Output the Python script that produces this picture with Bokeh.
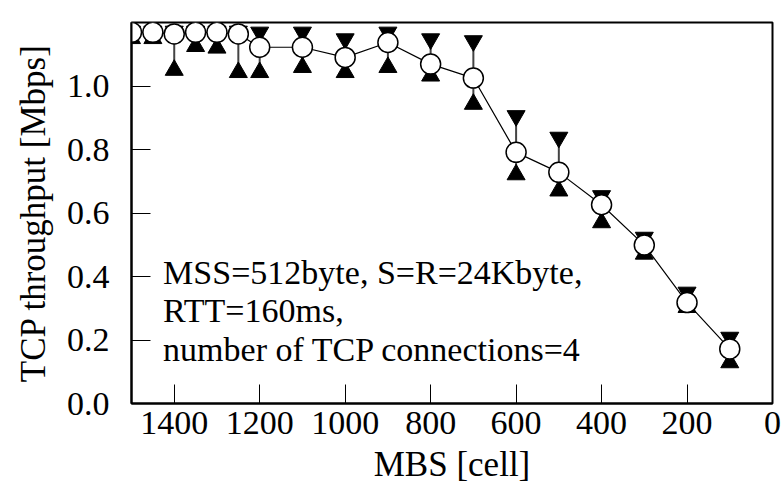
from bokeh.plotting import figure
from bokeh.models import Range1d, PrintfTickFormatter, ColumnDataSource, Title
from bokeh.core.properties import value
from bokeh.embed import file_html
from bokeh.resources import INLINE
import math

# MBS values [cell] and TCP throughput [Mbps]: mean, max and min per run
mbs = [1500, 1450, 1400, 1350, 1300, 1250, 1200, 1100, 1000, 900, 800, 700, 600, 500, 400, 300, 200, 100]
thr_mean = [1.169, 1.169, 1.164, 1.169, 1.169, 1.164, 1.122, 1.122, 1.090, 1.137, 1.069, 1.025,
            0.791, 0.728, 0.626, 0.499, 0.318, 0.172]
thr_max = [1.172, 1.172, 1.172, 1.172, 1.172, 1.172, 1.169, 1.169, 1.148, 1.169, 1.148, 1.142,
           0.906, 0.838, 0.654, 0.523, 0.350, 0.208]
thr_min = [1.150, 1.150, 1.050, 1.125, 1.120, 1.043, 1.043, 1.059, 1.043, 1.059, 1.032, 0.943,
           0.721, 0.670, 0.570, 0.471, 0.303, 0.129]

notes = ["MSS=512byte, S=R=24Kbyte,", "RTT=160ms,", "number of TCP connections=4"]
note_y = [0.355, 0.234, 0.112]

FONT = "Times New Roman"

src = ColumnDataSource(dict(x=mbs, y=thr_mean, hi=thr_max, lo=thr_min))

p = figure(width=782, height=492, output_backend="svg", toolbar_location=None,
           x_range=Range1d(1500, 0), y_range=Range1d(0, 1.2),
           min_border_left=128, min_border_right=10, min_border_top=22, min_border_bottom=89)

p.background_fill_color = "white"
p.outline_line_color = "black"
p.outline_line_width = 2
p.xgrid.visible = False
p.ygrid.visible = False

for ax in (p.xaxis[0], p.yaxis[0]):
    ax.axis_line_width = 2
    ax.major_tick_in = 19
    ax.major_tick_out = 0
    ax.minor_tick_line_color = None
    ax.major_label_text_font = FONT
    ax.major_label_text_font_size = "34px"
    ax.major_label_text_color = "black"

p.yaxis.formatter = PrintfTickFormatter(format="%.1f")
p.xaxis.major_label_standoff = 4
p.yaxis.major_label_standoff = 18

# axis titles
p.add_layout(Title(text="MBS [cell]", align="center", text_font=FONT, text_font_size="35px",
                   text_font_style="normal", text_color="black", standoff=12), "below")
p.add_layout(Title(text="TCP throughput [Mbps]", align="center", text_font=FONT,
                   text_font_size="35px", text_font_style="normal", text_color="black",
                   standoff=22), "left")

# error bars from min to max (max marker is a triangle turned upside down)
p.segment(x0="x", y0="lo", x1="x", y1="hi", source=src, line_color="#444444", line_width=2)
p.scatter(x="x", y="hi", source=src, marker="triangle", angle=math.pi, size=18,
          fill_color="black", line_color="black")
p.scatter(x="x", y="lo", source=src, marker="triangle", size=18,
          fill_color="black", line_color="black")

# mean throughput
p.line(x="x", y="y", source=src, line_color="black", line_width=1.2)
p.scatter(x="x", y="y", source=src, marker="circle", size=20,
          fill_color="white", line_color="black", line_width=1.5)

p.text(x=[1426] * len(notes), y=note_y, text=notes, text_font=value(FONT),
       text_font_size="34px")

open("out.html", "w").write(file_html(p, INLINE))
